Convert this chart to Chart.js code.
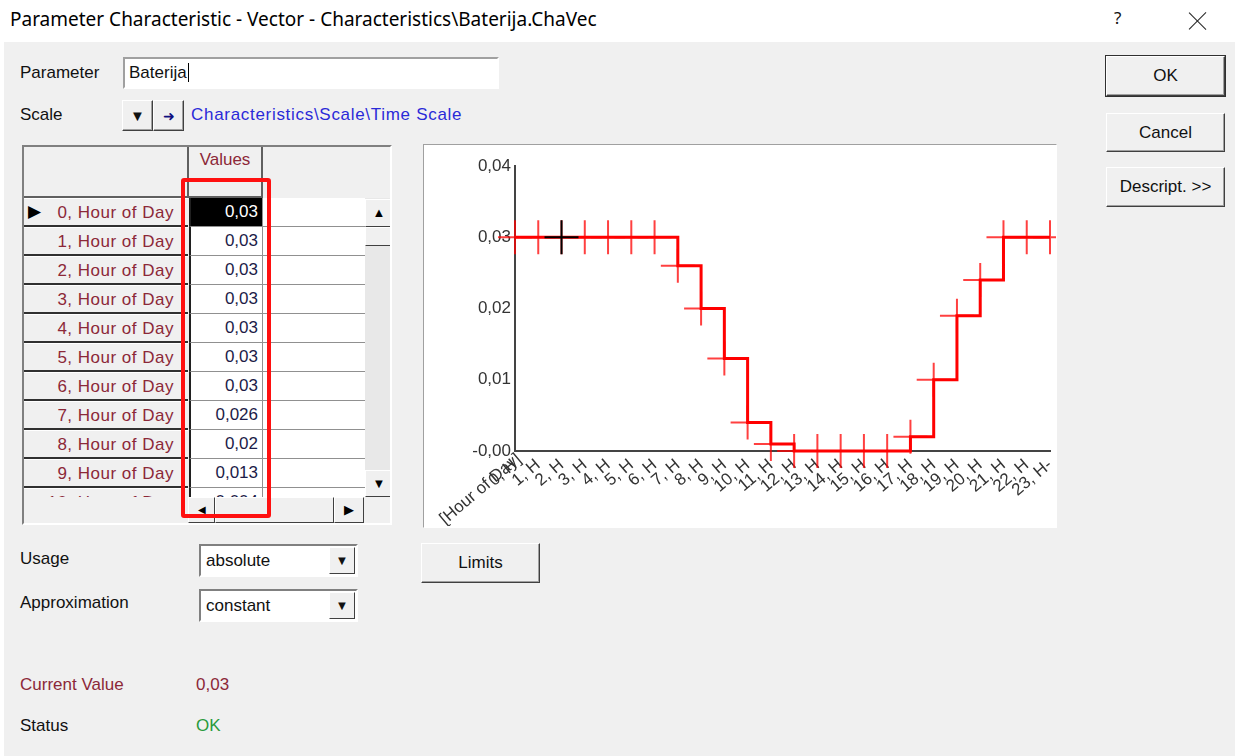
<!DOCTYPE html>
<html lang="en">
  <head>
    <meta charset="UTF-8" />
    <title>Parameter Characteristic - Vector - Characteristics\Baterija.ChaVec</title>
    <script src="https://cdn.jsdelivr.net/npm/chart.js"></script>
    <style>
      body {
        margin: 0;
        width: 1235px;
        height: 756px;
        background: #fff;
        font-family: "Liberation Sans", Arial, sans-serif;
        font-size: 17px;
        color: #111;
        position: relative;
        overflow: hidden;
      }
      .abs { position: absolute; }
      .titlebar {
        left: 10px; top: 6px;
        font-family: "Noto Sans", sans-serif;
        font-size: 19px;
        color: #000;
      }
      .body-bg {
        left: 4px; top: 42px; right: 0; bottom: 0;
        background: #f0f0f0;
      }
      .close-x { left: 1188px; top: 11px; width: 20px; height: 20px; }
      .close-x::before, .close-x::after {
        content: ""; position: absolute; left: 9px; top: -2px;
        width: 1.3px; height: 24px; background: #222;
      }
      .close-x::before { transform: rotate(45deg); }
      .close-x::after { transform: rotate(-45deg); }
      .sunken {
        background: #fff;
        border-style: solid;
        border-width: 2px;
        border-color: #a0a0a0 #fff #fff #a0a0a0;
        box-sizing: border-box;
      }
      .btn {
        background: #f0f0f0;
        border: 1px solid;
        border-color: #fff #404040 #404040 #fff;
        box-shadow: inset -1px -1px #a0a0a0;
        box-sizing: border-box;
        display: flex;
        align-items: center;
        justify-content: center;
        color: #111;
      }
      .btn.default { outline: 1px solid #303030; }
      .drop {
        background: #fff;
        border: 2px solid;
        border-color: #808080 #fff #fff #808080;
        box-sizing: border-box;
        padding-left: 5px;
        line-height: 29px;
      }
      .drop .arr {
        position: absolute; right: 1px; top: 1px; width: 26px; height: 27px;
        background: #f0f0f0;
        border: 1px solid; border-color: #fff #404040 #404040 #fff;
        box-sizing: border-box;
        font-size: 13px; text-align: center; line-height: 25px;
      }
      .red { color: #8c2838; }
      .grid { left: 22px; top: 145px; width: 370px; height: 380px; background: #f0f0f0;
        border: 2px solid; border-color: #808080 #fff #fff #808080; box-sizing: border-box; overflow: hidden; }
      .cell { position: absolute; box-sizing: border-box; }
      .rowhead {
        left: 0; width: 164px; height: 29px; background: #f0f0f0;
        border-top: 1px solid #fff; border-bottom: 2px solid #303030;
        text-align: right; padding-right: 14px; line-height: 27px; letter-spacing: 0.5px;
      }
      .valcell {
        left: 165px; width: 74px; height: 29px; background: #fff;
        border-left: 2px solid #202020; border-right: 1px solid #909090; border-bottom: 1px solid #909090;
        text-align: right; padding-right: 4px; line-height: 28px; color: #1c1c48;
      }
      .filler {
        left: 239px; width: 102px; height: 29px; background: #fff; border-bottom: 1px solid #909090;
      }
      .sbtn {
        background: #f0f0f0;
        border: 1px solid; border-color: #fff #404040 #404040 #fff;
        box-sizing: border-box; font-size: 13px; text-align: center; color: #000;
      }
      .panel { left: 423px; top: 144px; width: 634px; height: 384px;
        border: 1px solid; border-color: #a0a0a0 #fff #fff #a0a0a0; background: #fff; box-sizing: border-box; }
    </style>
  </head>

  <body>
    <div class="abs titlebar">Parameter Characteristic - Vector - Characteristics\Baterija.ChaVec</div>
    <div class="abs" style="left:1114px; top:6px; font-family:'Noto Sans'; font-size:17px;">?</div>
    <div class="abs close-x"></div>
    <div class="abs body-bg"></div>

    <div class="abs" style="left:20px; top:63px;">Parameter</div>
    <div class="abs sunken" style="left:123px; top:57px; width:376px; height:32px; padding-left:4px; line-height:27px;">Baterija<span style="border-left:1px solid #000; margin-left:1px;"></span></div>

    <div class="abs" style="left:20px; top:105px;">Scale</div>
    <div class="abs btn" style="left:122px; top:100px; width:31px; height:31px; font-size:15px;">&#9660;</div>
    <div class="abs btn" style="left:153px; top:100px; width:31px; height:31px; font-size:14px; color:#101080;">&#10140;</div>
    <div class="abs" style="left:191px; top:105px; color:#2a2ad8; letter-spacing:0.7px;">Characteristics\Scale\Time Scale</div>

    <div class="abs grid" id="grid">
      <div class="cell" style="left:163px; top:0; width:76px; height:51px; border-left:2px solid #606060; border-right:2px solid #606060; border-bottom:2px solid #606060; text-align:center; padding-top:3px;"><span class="red">Values</span></div>
      <div class="cell" style="left:0; top:49px; width:163px; height:2px; background:#606060;"></div>
    </div>

    <div class="abs" style="left:181px; top:178px; width:90px; height:340px; border:4px solid #ff1010; border-radius:3px; box-sizing:border-box;"></div>

    <div class="abs panel"><div style="position:absolute; left:1px; top:2px; width:631px; height:379px;"><canvas id="paramChart"></canvas></div></div>

    <div class="abs btn default" style="left:1106px; top:56px; width:119px; height:40px;">OK</div>
    <div class="abs btn" style="left:1106px; top:113px; width:119px; height:39px;">Cancel</div>
    <div class="abs btn" style="left:1106px; top:167px; width:119px; height:40px;">Descript. &gt;&gt;</div>

    <div class="abs" style="left:20px; top:549px;">Usage</div>
    <div class="abs drop" style="left:199px; top:544px; width:159px; height:33px;">absolute<div class="arr">&#9660;</div></div>
    <div class="abs" style="left:20px; top:593px;">Approximation</div>
    <div class="abs drop" style="left:199px; top:589px; width:159px; height:33px;">constant<div class="arr">&#9660;</div></div>
    <div class="abs btn" style="left:421px; top:543px; width:119px; height:40px;">Limits</div>

    <div class="abs red" style="left:20px; top:675px;">Current Value</div>
    <div class="abs red" style="left:196px; top:675px;">0,03</div>
    <div class="abs" style="left:20px; top:716px;">Status</div>
    <div class="abs" style="left:196px; top:716px; color:#2a9a3c;">OK</div>

    <script>
      const hours = ["0", "1", "2", "3", "4", "5", "6", "7", "8", "9", "10", "11",
                     "12", "13", "14", "15", "16", "17", "18", "19", "20", "21", "22", "23"];
      const xTickLabels = ["0, H", "1, H", "2, H", "3, H", "4, H", "5, H", "6, H", "7, H", "8, H", "9, H", "10, H", "11, H",
                           "12, H", "13, H", "14, H", "15, H", "16, H", "17, H", "18, H", "19, H", "20, H", "21, H", "22, H", "23, H-"];
      const values = [0.03, 0.03, 0.03, 0.03, 0.03, 0.03, 0.03, 0.026, 0.02, 0.013, 0.004, 0.001,
                      0, 0, 0, 0, 0, 0.002, 0.01, 0.019, 0.024, 0.03, 0.03, 0.03];
      const currentHour = 2;
      const yTicks = [0, 0.01, 0.02, 0.03, 0.04];
      const yTickLabels = ["-0,00", "0,01", "0,02", "0,03", "0,04"];
      const axisUnit = "[Hour of Day]";

      // table on the left: shows the first rows of the same values
      const grid = document.getElementById("grid");
      function fmt(v) { return String(v).replace(".", ","); }
      for (let i = 0; i < 11; i++) {
        const top = 51 + i * 29;
        const rh = document.createElement("div");
        rh.className = "cell rowhead red";
        rh.style.top = top + "px";
        rh.textContent = hours[i] + ", Hour of Day";
        grid.appendChild(rh);
        const vc = document.createElement("div");
        vc.className = "cell valcell";
        vc.style.top = top + "px";
        vc.textContent = fmt(values[i]);
        if (i === 0) { vc.style.background = "#000"; vc.style.color = "#fff"; }
        grid.appendChild(vc);
        const fl = document.createElement("div");
        fl.className = "cell filler";
        fl.style.top = top + "px";
        grid.appendChild(fl);
      }
      const arrow = document.createElement("div");
      arrow.className = "cell";
      arrow.style.cssText = "left:4px; top:54px; font-size:17px; color:#000;";
      arrow.textContent = "\u25B6";
      grid.appendChild(arrow);
      // scrollbars
      grid.insertAdjacentHTML("beforeend",
        '<div class="cell" style="left:341px; top:51px; width:29px; height:299px; background:#e8e8e8;"></div>' +
        '<div class="cell sbtn" style="left:341px; top:52px; width:28px; height:28px; line-height:26px;">&#9650;</div>' +
        '<div class="cell sbtn" style="left:341px; top:80px; width:28px; height:19px;"></div>' +
        '<div class="cell sbtn" style="left:341px; top:323px; width:28px; height:27px; line-height:25px;">&#9660;</div>' +
        '<div class="cell" style="left:0; top:350px; width:370px; height:30px; background:#f0f0f0;"></div>' +
        '<div class="cell" style="left:164px; top:350px; width:176px; height:26px; background:#e8e8e8;"></div>' +
        '<div class="cell sbtn" style="left:164px; top:350px; width:27px; height:26px; line-height:24px; font-size:10px;">&#9664;</div>' +
        '<div class="cell sbtn" style="left:191px; top:350px; width:119px; height:26px;"></div>' +
        '<div class="cell sbtn" style="left:310px; top:350px; width:30px; height:26px; line-height:24px;">&#9654;</div>'
      );

      const unitLabel = {
        id: "unitLabel",
        afterDraw(chart) {
          const c = chart.ctx;
          const x = chart.scales.x.getPixelForValue(0);
          const y = chart.chartArea.bottom;
          c.save();
          c.translate(x + 4, y + 6);
          c.rotate(-40 * Math.PI / 180);
          c.font = "17px 'Liberation Sans', Arial";
          c.fillStyle = "#333";
          c.textAlign = "right";
          c.textBaseline = "middle";
          c.fillText(axisUnit, 0, 0);
          c.restore();
        },
      };

      const ctx = document.getElementById("paramChart").getContext("2d");
      const paramChart = new Chart(ctx, {
        type: "line",
        data: {
          labels: xTickLabels,
          datasets: [
            {
              label: "current",
              data: values.map((v, i) => (i === currentHour ? v : null)),
              showLine: false,
              pointStyle: "cross",
              pointRadius: 17,
              pointBorderColor: "#000",
              pointBorderWidth: 2,
              clip: false,
            },
            {
              label: "Baterija",
              data: values,
              stepped: true,
              borderColor: "#ff0000",
              borderWidth: 3,
              pointStyle: "cross",
              pointRadius: 17,
              pointBorderColor: "rgba(255, 0, 0, 0.75)",
              pointBorderWidth: 2,
              clip: false,
            },
          ],
        },
        options: {
          responsive: true,
          maintainAspectRatio: false,
          animation: false,
          layout: { autoPadding: false, padding: { top: 19, right: 6, left: 0, bottom: 0 } },
          plugins: { legend: { display: false }, tooltip: { enabled: false } },
          scales: {
            x: {
              offset: false,
              grid: { display: false, drawTicks: false },
              border: { color: "#444", width: 2 },
              ticks: {
                autoSkip: false,
                minRotation: 40,
                maxRotation: 40,
                padding: 4,
                color: "#333",
                font: { family: "'Liberation Sans', Arial", size: 17 },
              },
              afterFit(scale) {
                scale.height = 75;
                scale.paddingLeft = 0;
                scale.paddingRight = 0;
              },
            },
            y: {
              min: 0,
              max: 0.04,
              grid: { display: false, drawTicks: false },
              border: { color: "#444", width: 2 },
              afterBuildTicks(scale) { scale.ticks = yTicks.map((v) => ({ value: v })); },
              ticks: {
                padding: 4,
                color: "#333",
                font: { family: "'Liberation Sans', Arial", size: 17 },
                callback: (v, i) => yTickLabels[i],
              },
              afterFit(scale) { scale.width = 90; },
            },
          },
        },
        plugins: [unitLabel],
      });
    </script>
  </body>
</html>
